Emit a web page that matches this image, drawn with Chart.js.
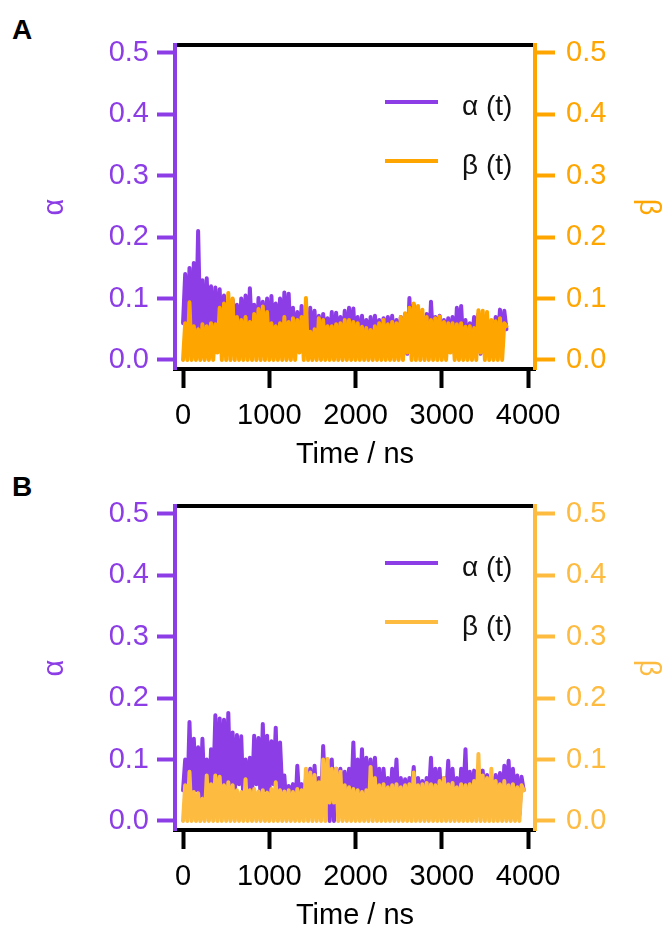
<!DOCTYPE html>
<html>
<head>
<meta charset="utf-8">
<script src="https://cdn.jsdelivr.net/npm/chart.js@4.4.1/dist/chart.umd.min.js"></script>
<style>
  html, body { margin: 0; padding: 0; background: #fff; }
  body { width: 668px; height: 930px; position: relative; overflow: hidden;
         font-family: "Liberation Sans", Arial, sans-serif; }
  .panel { position: absolute; left: 0; width: 668px; height: 469px; }
  .tag { position: absolute; left: 12px; font-weight: bold; font-size: 28px; line-height: 1; color: #000; }
</style>
</head>
<body>
<div class="tag" style="top:16px">A</div>
<div class="tag" style="top:473px">B</div>
<div class="panel" style="top:0"><canvas id="chartA" width="668" height="469"></canvas></div>
<div class="panel" style="top:461px"><canvas id="chartB" width="668" height="469"></canvas></div>

<script>
// Sampling interval of the trajectories (ns)
const DT = 25;

// Tick values
const timeTicks = [0, 1000, 2000, 3000, 4000];
const valueTicks = [0, 0.1, 0.2, 0.3, 0.4, 0.5];

// Series labels
const alphaLabel = 'α (t)';
const betaLabel = 'β (t)';

// Panel A: alpha(t) and beta(t), 0 - 3750 ns
const alphaA = [
  0.06,0.14,0.02,0.15,0.03,0.158,0.04,0.21,0.05,0.13,
  0.02,0.133,0.04,0.12,0.01,0.118,0.03,0.115,0.02,0.105,
  0.01,0.09,0.03,0.098,0.02,0.09,0.01,0.1,0.03,0.105,
  0.02,0.117,0.04,0.09,0.01,0.101,0.03,0.095,0.02,0.1,
  0.01,0.104,0.03,0.092,0.02,0.1,0.01,0.11,0.03,0.108,
  0.02,0.085,0.01,0.078,0.03,0.088,0.02,0.07,0.01,0.085,
  0.03,0.08,0.02,0.072,0.01,0.075,0.03,0.068,0.02,0.078,
  0.01,0.077,0.03,0.07,0.02,0.08,0.01,0.085,0.03,0.084,
  0.02,0.07,0.01,0.072,0.03,0.065,0.02,0.07,0.01,0.072,
  0.03,0.065,0.02,0.068,0.01,0.07,0.03,0.072,0.02,0.065,
  0.01,0.07,0.03,0.075,0.01,0.101,0.02,0.09,0.01,0.08,
  0.03,0.07,0.02,0.075,0.01,0.095,0.03,0.07,0.02,0.072,
  0.01,0.065,0.03,0.068,0.02,0.07,0.01,0.085,0.03,0.088,
  0.02,0.065,0.01,0.06,0.03,0.07,0.02,0.075,0.01,0.07,
  0.03,0.065,0.02,0.06,0.01,0.07,0.03,0.082,0.02,0.08,
  0.05
];
const betaA = [
  0.0,0.06,0.0,0.094,0.0,0.055,0.0,0.05,0.0,0.058,
  0.0,0.055,0.0,0.06,0.0,0.058,0.012,0.085,0.0,0.092,
  0.0,0.109,0.0,0.1,0.0,0.07,0.0,0.065,0.0,0.07,
  0.0,0.062,0.0,0.075,0.0,0.083,0.0,0.087,0.0,0.078,
  0.0,0.06,0.0,0.055,0.0,0.06,0.0,0.07,0.0,0.062,
  0.0,0.068,0.0,0.065,0.012,0.07,0.0,0.101,0.0,0.046,
  0.0,0.05,0.0,0.068,0.0,0.065,0.0,0.055,0.0,0.055,
  0.0,0.058,0.0,0.06,0.0,0.065,0.0,0.065,0.0,0.062,
  0.0,0.06,0.0,0.054,0.0,0.052,0.0,0.049,0.0,0.055,
  0.0,0.06,0.0,0.065,0.0,0.058,0.0,0.062,0.0,0.06,
  0.0,0.07,0.0,0.076,0.012,0.085,0.0,0.092,0.0,0.088,
  0.0,0.082,0.0,0.07,0.0,0.065,0.0,0.068,0.0,0.071,
  0.0,0.062,0.0,0.06,0.012,0.06,0.0,0.058,0.0,0.06,
  0.0,0.054,0.0,0.055,0.0,0.052,0.0,0.081,0.012,0.08,
  0.0,0.078,0.0,0.065,0.0,0.063,0.0,0.068,0.0,0.06,
  0.055
];

// Panel B: alpha(t) and beta(t), 0 - 3950 ns
const alphaB = [
  0.05,0.1,0.03,0.161,0.04,0.134,0.05,0.12,0.03,0.134,
  0.04,0.1,0.02,0.117,0.05,0.172,0.04,0.167,0.06,0.165,
  0.03,0.176,0.05,0.144,0.04,0.14,0.06,0.138,0.03,0.1,
  0.05,0.103,0.04,0.139,0.06,0.135,0.03,0.158,0.05,0.139,
  0.04,0.13,0.06,0.152,0.03,0.128,0.05,0.074,0.02,0.057,
  0.04,0.06,0.01,0.09,0.03,0.06,0.02,0.068,0.04,0.085,
  0.01,0.09,0.03,0.07,0.02,0.122,0.04,0.1,0.0,0.1,
  0.0,0.085,0.02,0.085,0.04,0.08,0.01,0.085,0.03,0.128,
  0.02,0.1,0.04,0.117,0.01,0.103,0.03,0.1,0.02,0.103,
  0.04,0.085,0.01,0.085,0.03,0.07,0.02,0.085,0.04,0.1,
  0.01,0.07,0.03,0.068,0.02,0.07,0.04,0.088,0.01,0.07,
  0.03,0.065,0.02,0.07,0.04,0.103,0.01,0.085,0.03,0.085,
  0.02,0.07,0.04,0.098,0.01,0.085,0.03,0.07,0.02,0.085,
  0.04,0.117,0.01,0.08,0.03,0.082,0.02,0.07,0.04,0.082,
  0.01,0.075,0.03,0.072,0.02,0.075,0.04,0.078,0.01,0.09,
  0.03,0.098,0.02,0.085,0.04,0.074,0.01,0.072,0.05
];
const betaB = [
  0.0,0.058,0.0,0.08,0.0,0.047,0.0,0.045,0.0,0.036,
  0.0,0.074,0.0,0.06,0.0,0.074,0.0,0.072,0.0,0.058,
  0.0,0.063,0.0,0.058,0.0,0.05,0.0,0.047,0.0,0.068,
  0.0,0.05,0.0,0.052,0.0,0.048,0.0,0.05,0.0,0.046,
  0.0,0.052,0.0,0.063,0.0,0.05,0.0,0.048,0.0,0.05,
  0.0,0.047,0.0,0.052,0.0,0.05,0.0,0.085,0.0,0.079,
  0.0,0.075,0.0,0.063,0.0,0.1,0.0,0.101,0.03,0.085,
  0.03,0.085,0.0,0.08,0.0,0.058,0.0,0.055,0.0,0.052,
  0.0,0.05,0.0,0.047,0.0,0.05,0.0,0.088,0.0,0.07,
  0.0,0.058,0.0,0.06,0.0,0.055,0.0,0.058,0.0,0.06,
  0.0,0.055,0.0,0.058,0.0,0.06,0.0,0.079,0.0,0.058,
  0.0,0.06,0.0,0.062,0.0,0.06,0.0,0.058,0.0,0.065,
  0.0,0.07,0.0,0.06,0.0,0.062,0.0,0.055,0.0,0.06,
  0.0,0.058,0.0,0.06,0.0,0.065,0.0,0.109,0.0,0.074,
  0.0,0.07,0.0,0.085,0.0,0.065,0.0,0.06,0.0,0.065,
  0.0,0.058,0.0,0.06,0.0,0.055,0.0,0.058,0.05
];

const PURPLE = '#8C3DE6';
const ORANGE_A = '#FFA500';
const ORANGE_B = '#FDBB40';
const FONT = '"Liberation Sans", Arial, sans-serif';
const TICK_FONT = { family: FONT, size: 29 };

const toPoints = vals => vals.map((v, i) => ({ x: i * DT, y: v }));

// In-plot legend: a short line sample followed by the series name
const inlineLegend = {
  id: 'inlineLegend',
  afterDraw(chart, args, o) {
    const { ctx, chartArea } = chart;
    ctx.save();
    chart.data.datasets.forEach((ds, i) => {
      const y = chartArea.top + o.top + i * o.gap;
      ctx.strokeStyle = ds.borderColor;
      ctx.lineWidth = 4;
      ctx.lineCap = 'butt';
      ctx.beginPath();
      ctx.moveTo(o.x, y);
      ctx.lineTo(o.x + o.len, y);
      ctx.stroke();
      ctx.fillStyle = '#111';
      ctx.font = '28px ' + FONT;
      ctx.textBaseline = 'alphabetic';
      ctx.textAlign = 'left';
      ctx.fillText(ds.label, o.x + o.len + 24, y + 13);
    });
    ctx.restore();
  }
};

function valueAxis(position, color, title, fixedWidth, tickLen, pad, titlePad) {
  return {
    type: 'linear',
    position,
    min: -0.0147,
    max: 0.513,
    afterBuildTicks: s => { s.ticks = valueTicks.map(v => ({ value: v })); },
    afterFit: s => { s.width = fixedWidth; },
    grid: { drawOnChartArea: false, drawTicks: true, tickLength: tickLen, tickWidth: 4, tickColor: color },
    border: { display: true, color, width: 4 },
    ticks: { color, font: TICK_FONT, padding: pad, callback: v => v.toFixed(1) },
    title: { display: true, text: title, color, font: { family: FONT, size: 29 }, padding: { top: titlePad, bottom: 0 } }
  };
}

function makeChart(id, alphaVals, betaVals, betaColor) {
  return new Chart(document.getElementById(id), {
    type: 'line',
    data: {
      datasets: [
        { label: alphaLabel, data: toPoints(alphaVals), borderColor: PURPLE, yAxisID: 'y', order: 2 },
        { label: betaLabel, data: toPoints(betaVals), borderColor: betaColor, yAxisID: 'y2', order: 1 }
      ]
    },
    options: {
      responsive: false,
      animation: false,
      events: [],
      layout: { padding: 0 },
      elements: {
        point: { radius: 0 },
        line: { borderWidth: 4, tension: 0, borderJoinStyle: 'round', borderCapStyle: 'round', fill: false }
      },
      scales: {
        x: {
          type: 'linear',
          position: 'bottom',
          min: -93,
          max: 4081,
          afterBuildTicks: s => { s.ticks = timeTicks.map(v => ({ value: v })); },
          afterFit: s => { s.height = 100; },
          grid: { drawOnChartArea: false, drawTicks: true, tickLength: 19, tickWidth: 4, tickColor: '#000' },
          border: { display: true, color: '#000', width: 4 },
          ticks: { color: '#000', font: TICK_FONT, padding: 11, maxRotation: 0, callback: v => String(v) },
          title: { display: true, text: 'Time / ns', color: '#000', font: { family: FONT, size: 29 }, padding: { top: 0, bottom: -3 } }
        },
        xTop: {
          type: 'linear',
          position: 'top',
          min: -93,
          max: 4081,
          afterFit: s => { s.height = 45; },
          grid: { display: false },
          border: { display: true, color: '#000', width: 4 },
          ticks: { display: false }
        },
        y: valueAxis('left', PURPLE, 'α', 175, 18, 8, 38),
        y2: valueAxis('right', betaColor, 'β', 133, 20, 11, 3)
      },
      plugins: {
        legend: { display: false },
        tooltip: { enabled: false },
        inlineLegend: { x: 385, len: 53, top: 57, gap: 59 }
      }
    },
    plugins: [inlineLegend]
  });
}

makeChart('chartA', alphaA, betaA, ORANGE_A);
makeChart('chartB', alphaB, betaB, ORANGE_B);
</script>
</body>
</html>
